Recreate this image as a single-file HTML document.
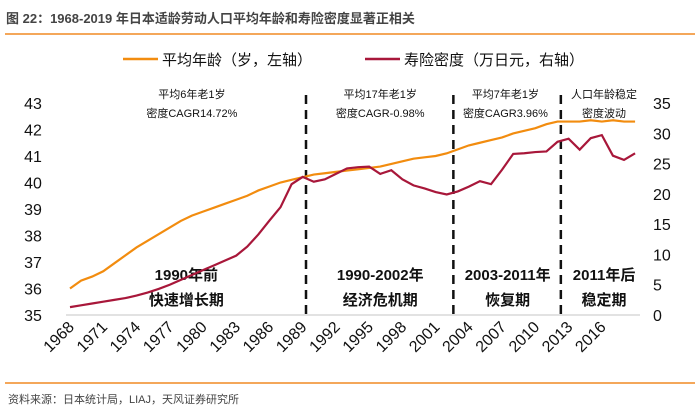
<!DOCTYPE html>
<html><head><meta charset="utf-8"><style>
body{margin:0;background:#fff;}
svg text{font-family:"Liberation Sans","Noto Sans CJK SC",sans-serif;}
</style></head><body>
<svg id="c" width="700" height="415" xmlns="http://www.w3.org/2000/svg">
<text x="6" y="23" font-size="13" font-weight="bold" fill="#444">图 22：1968-2019 年日本适龄劳动人口平均年龄和寿险密度显著正相关</text>
<line x1="5" y1="34" x2="695" y2="34" stroke="#f08a24" stroke-width="1.5"/>
<g>
<line x1="123" y1="59" x2="158" y2="59" stroke="#f28c0f" stroke-width="2.5"/>
<text x="162" y="65" font-size="15" fill="#111">平均年龄（岁，左轴）</text>
<line x1="365" y1="59" x2="400" y2="59" stroke="#a8173a" stroke-width="2.5"/>
<text x="404" y="65" font-size="15" fill="#111">寿险密度（万日元，右轴）</text>
</g>
<g id="plot"></g>
<line x1="5" y1="383" x2="695" y2="383" stroke="#f08a24" stroke-width="1.5"/>
<text x="8" y="403" font-size="11" fill="#444">资料来源：日本统计局，LIAJ，天风证券研究所</text>
</svg>
<script>
const years=[];for(let y=1968;y<=2019;y++)years.push(y);
const ageValues=[36.0,36.3,36.45,36.65,36.95,37.25,37.55,37.8,38.05,38.3,38.55,38.75,38.9,39.05,39.2,39.35,39.5,39.7,39.85,40.0,40.1,40.2,40.3,40.35,40.4,40.45,40.5,40.55,40.6,40.7,40.8,40.9,40.95,41.0,41.1,41.25,41.4,41.5,41.6,41.7,41.85,41.95,42.05,42.2,42.3,42.3,42.3,42.35,42.3,42.35,42.3,42.3];
const densityValues=[1.3,1.6,1.9,2.2,2.5,2.8,3.2,3.7,4.3,5.0,5.8,6.6,7.4,8.2,9.0,9.8,11.3,13.3,15.6,17.8,21.6,22.8,22.0,22.4,23.3,24.2,24.4,24.5,23.3,23.9,22.4,21.4,20.9,20.3,19.9,20.4,21.2,22.1,21.6,24.0,26.6,26.7,26.9,27.0,28.6,29.1,27.3,29.2,29.7,26.3,25.6,26.7];
const leftTicks=[35,36,37,38,39,40,41,42,43];
const rightTicks=[0,5,10,15,20,25,30,35];
const xTickYears=[1968,1971,1974,1977,1980,1983,1986,1989,1992,1995,1998,2001,2004,2007,2010,2013,2016];
const dividerYears=[1989.3,2002.6,2012.3];
const topNotes=[["平均6年老1岁","密度CAGR14.72%",1979],["平均17年老1岁","密度CAGR-0.98%",1996],["平均7年老1岁","密度CAGR3.96%",2007.3],["人口年龄稳定","密度波动",2016.2]];
const periodLabels=[["1990年前","快速增长期",1978.5],["1990-2002年","经济危机期",1996],["2003-2011年","恢复期",2007.5],["2011年后","稳定期",2016.2]];
const NS="http://www.w3.org/2000/svg",g=document.getElementById('plot');
const x=v=>70+(v-1968)*11.08;
const yL=v=>315-(v-35)*26.5;
const yR=v=>315-v*6.057;
function mk(t,a,txt){const e=document.createElementNS(NS,t);for(const k in a)e.setAttribute(k,a[k]);if(txt!==undefined)e.textContent=txt;g.appendChild(e);return e;}
let e=mk('line',{x1:66,y1:315,x2:640,y2:315,stroke:'#d9d9d9','stroke-width':1.5});


leftTicks.forEach(v=>{const t=mk('text',{x:33,y:yL(v)+6,'font-size':16,fill:'#111','text-anchor':'middle'},String(v));

});
rightTicks.forEach(v=>{const t=mk('text',{x:653,y:yR(v)+6,'font-size':16,fill:'#111'},String(v));

});
xTickYears.forEach(v=>{const px=x(v)+5,py=328;const t=mk('text',{x:px,y:py,'font-size':16,fill:'#111','text-anchor':'end',transform:`rotate(-45 ${px} ${py})`},String(v));

});
dividerYears.forEach((v,i)=>{const l=mk('line',{x1:x(v),y1:95,x2:x(v),y2:315,stroke:'#111','stroke-width':2.5,'stroke-dasharray':'9,6'});

});
topNotes.forEach((n,i)=>{const a=mk('text',{x:x(n[2]),y:98,'font-size':11,fill:'#111','text-anchor':'middle'},n[0]);


const b=mk('text',{x:x(n[2]),y:117,'font-size':11,fill:'#111','text-anchor':'middle'},n[1]);

});
periodLabels.forEach((n,i)=>{const a=mk('text',{x:x(n[2]),y:280,'font-size':15,'font-weight':'bold',fill:'#111','text-anchor':'middle'},n[0]);


const b=mk('text',{x:x(n[2]),y:305,'font-size':15,'font-weight':'bold',fill:'#111','text-anchor':'middle'},n[1]);

});
const pa=mk('polyline',{points:years.map((yr,i)=>x(yr)+','+yL(ageValues[i])).join(' '),fill:'none',stroke:'#f28c0f','stroke-width':2.2});


const pd=mk('polyline',{points:years.map((yr,i)=>x(yr)+','+yR(densityValues[i])).join(' '),fill:'none',stroke:'#a8173a','stroke-width':2.2});


</script>
</body></html>
